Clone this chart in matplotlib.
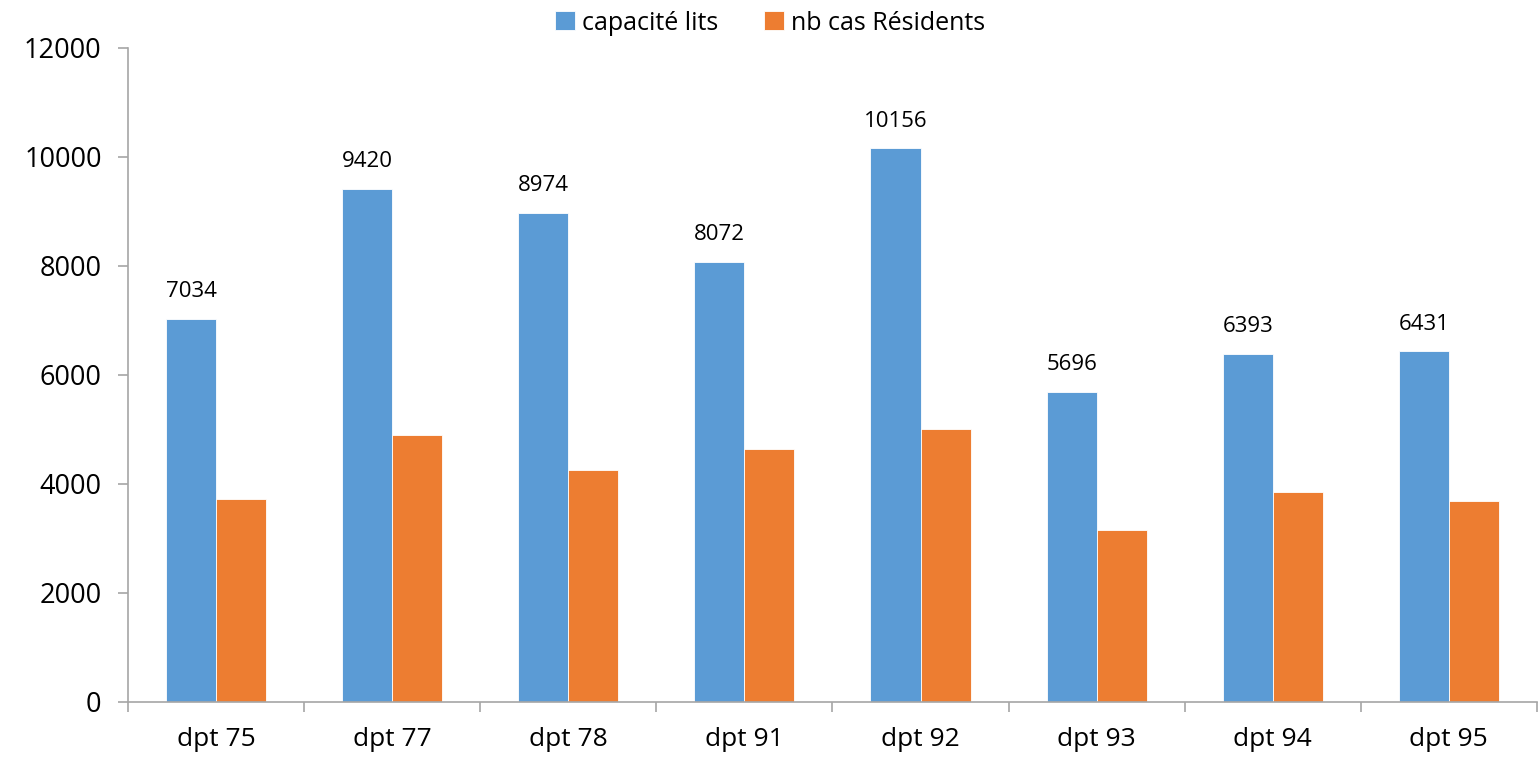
import numpy as np
import matplotlib
matplotlib.use("Agg")
import matplotlib.pyplot as plt

plt.rcParams["font.family"] = ["Open Sans", "DejaVu Sans"]

# ── Data ──────────────────────────────────────────────────────────────────
departements = ["dpt 75", "dpt 77", "dpt 78", "dpt 91", "dpt 92", "dpt 93", "dpt 94", "dpt 95"]
capacite_lits = [7034, 9420, 8974, 8072, 10156, 5696, 6393, 6431]
nb_cas_residents = [3720, 4890, 4260, 4650, 5010, 3150, 3845, 3680]

BLUE = "#5B9BD5"
ORANGE = "#ED7D31"
AXIS_GREY = "#A6A6A6"

fig = plt.figure(figsize=(15.4, 7.57), dpi=100)
ax = fig.add_axes([0.0831, 0.0727, 0.9149, 0.8639])

x = np.arange(len(departements))
w = 0.284
b1 = ax.bar(x - w / 2, capacite_lits, w, color=BLUE, edgecolor="white",
            linewidth=0.6, label="capacité lits")
b2 = ax.bar(x + w / 2, nb_cas_residents, w, color=ORANGE, edgecolor="white",
            linewidth=0.6, label="nb cas Résidents")

ax.bar_label(b1, labels=[str(v) for v in capacite_lits], padding=12, fontsize=16)

ax.set_ylim(0, 12000)
ax.set_yticks(np.arange(0, 12001, 2000))
ax.set_xlim(-0.5, len(departements) - 0.5)
ax.set_xticks(x)
ax.set_xticklabels(departements)
ax.set_xticks(np.arange(-0.5, len(departements)), minor=True)

for s in ["top", "right"]:
    ax.spines[s].set_visible(False)
for s in ["left", "bottom"]:
    ax.spines[s].set_color(AXIS_GREY)
    ax.spines[s].set_linewidth(1.2)

ax.tick_params(axis="y", direction="out", length=7, width=1.2, color=AXIS_GREY,
               labelsize=19.5, pad=12)
ax.tick_params(axis="x", which="major", length=0, labelsize=19, pad=18)
ax.tick_params(axis="x", which="minor", direction="out", length=7, width=1.2,
               color=AXIS_GREY)

fig.legend(handles=[b1, b2], loc="center", bbox_to_anchor=(0.5, 1 - 23 / 757),
           ncol=2, frameon=False, fontsize=18, handlelength=0.8, handleheight=0.8,
           handletextpad=0.3, columnspacing=1.8)

fig.savefig("out.png", dpi=100)
